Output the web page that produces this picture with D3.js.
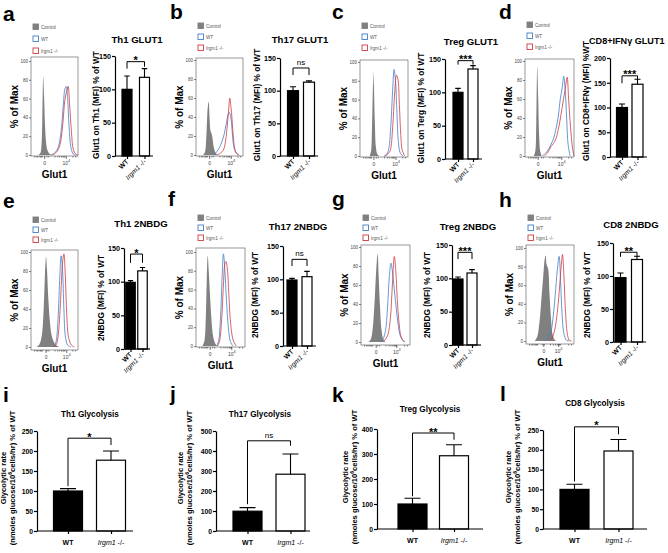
<!DOCTYPE html>
<html>
<head>
<meta charset="utf-8">
<script src="https://cdn.jsdelivr.net/npm/d3@7"></script>
<style>
  body { margin: 0; background: #fff; }
  svg { display: block; font-family: Arial, "Liberation Sans", sans-serif; }
</style>
</head>
<body>
<svg id="fig" width="668" height="553"></svg>
<script>
/* ---------- data ---------- */
const groups = ["WT", "Irgm1 -/-"];
const histTicks = [0, 20, 40, 60, 80, 100];
const histMinor = [0.06, 0.1, 0.13, 0.16, 0.19, 0.21, 0.23, 0.33, 0.37, 0.5, 0.56, 0.6, 0.64, 0.67, 0.69, 0.71, 0.88, 0.94];

// histogram traces: [channel, % of max]
const ctrlA = [[0.16,0],[0.2,2],[0.22,8],[0.24,35],[0.26,83],[0.28,60],[0.3,30],[0.32,14],[0.35,5],[0.4,1],[0.45,0]];
const wtA = [[0.42,0],[0.5,2],[0.55,5],[0.6,12],[0.65,30],[0.69,55],[0.72,70],[0.75,73],[0.78,60],[0.81,30],[0.85,8],[0.9,1],[0.95,0]];
const koA = [[0.45,0],[0.52,2],[0.58,6],[0.63,14],[0.68,35],[0.72,58],[0.76,68],[0.79,73],[0.82,55],[0.86,25],[0.9,6],[0.95,1],[1,0]];

const ctrlB = [[0.15,0],[0.19,3],[0.22,20],[0.25,50],[0.27,56],[0.29,38],[0.31,25],[0.33,23],[0.35,18],[0.38,8],[0.42,2],[0.46,0]];
const wtB = [[0.38,0],[0.45,4],[0.5,8],[0.55,14],[0.6,22],[0.64,32],[0.68,42],[0.71,45],[0.74,40],[0.77,25],[0.8,10],[0.84,3],[0.9,0]];
const koB = [[0.45,0],[0.52,2],[0.58,5],[0.62,12],[0.66,28],[0.69,45],[0.72,60],[0.74,52],[0.76,42],[0.79,22],[0.82,8],[0.86,2],[0.92,0]];

const ctrlC = [[0.2,0],[0.23,5],[0.25,30],[0.27,75],[0.28,89],[0.29,75],[0.31,35],[0.33,10],[0.36,2],[0.4,0]];
const wtC = [[0.5,0],[0.56,2],[0.6,8],[0.64,30],[0.68,70],[0.71,92],[0.74,80],[0.77,45],[0.8,15],[0.84,3],[0.9,0]];
const koC = [[0.52,0],[0.58,2],[0.63,6],[0.68,30],[0.72,65],[0.76,86],[0.79,82],[0.82,55],[0.85,22],[0.88,6],[0.93,0]];

const ctrlD = [[0.18,0],[0.21,5],[0.23,35],[0.25,94],[0.27,60],[0.29,20],[0.31,5],[0.34,0]];
const wtD = [[0.35,0],[0.42,3],[0.48,7],[0.53,12],[0.58,18],[0.63,28],[0.68,42],[0.72,60],[0.76,72],[0.79,84],[0.82,70],[0.85,40],[0.88,12],[0.92,0]];
const koD = [[0.4,0],[0.47,4],[0.53,10],[0.58,13],[0.63,18],[0.68,28],[0.73,42],[0.78,58],[0.82,70],[0.86,83],[0.89,60],[0.93,30],[0.97,8],[1,0]];

const ctrlE = [[0.12,0],[0.18,3],[0.23,12],[0.27,40],[0.3,80],[0.32,95],[0.34,82],[0.37,50],[0.4,28],[0.44,12],[0.5,4],[0.56,1],[0.6,0]];
const wtE = [[0.48,0],[0.53,5],[0.57,25],[0.61,70],[0.64,96],[0.67,82],[0.7,40],[0.73,12],[0.78,2],[0.85,0]];
const koE = [[0.5,0],[0.55,4],[0.59,18],[0.63,50],[0.67,88],[0.7,98],[0.73,75],[0.76,35],[0.8,10],[0.86,2],[0.92,0]];

const ctrlF = [[0.13,0],[0.17,5],[0.2,30],[0.22,70],[0.24,96],[0.26,80],[0.29,50],[0.32,25],[0.35,10],[0.39,3],[0.43,0]];
const wtF = [[0.42,0],[0.46,5],[0.5,30],[0.53,70],[0.56,98],[0.59,80],[0.62,50],[0.66,20],[0.7,5],[0.75,0]];
const koF = [[0.44,0],[0.48,5],[0.52,25],[0.56,65],[0.59,88],[0.61,90],[0.64,82],[0.67,55],[0.71,22],[0.76,6],[0.82,0]];

const ctrlG = [[0.15,0],[0.2,3],[0.24,15],[0.28,45],[0.31,75],[0.34,93],[0.36,70],[0.39,35],[0.42,12],[0.46,2],[0.5,0]];
const wtG = [[0.4,0],[0.45,3],[0.5,12],[0.54,35],[0.58,70],[0.61,83],[0.64,75],[0.68,55],[0.72,35],[0.76,18],[0.8,7],[0.85,2],[0.9,0]];
const koG = [[0.45,0],[0.5,3],[0.55,8],[0.6,25],[0.64,60],[0.68,90],[0.71,75],[0.74,45],[0.78,18],[0.82,5],[0.88,0]];

const ctrlH = [[0.18,0],[0.23,4],[0.28,20],[0.32,45],[0.36,70],[0.39,88],[0.41,92],[0.43,82],[0.46,78],[0.49,50],[0.52,25],[0.55,8],[0.6,1],[0.64,0]];
const wtH = [[0.4,0],[0.46,3],[0.52,10],[0.57,28],[0.61,50],[0.65,75],[0.69,91],[0.72,65],[0.75,30],[0.79,8],[0.84,1],[0.9,0]];
const koH = [[0.48,0],[0.54,3],[0.59,10],[0.63,22],[0.67,40],[0.71,65],[0.74,85],[0.76,93],[0.79,70],[0.82,35],[0.86,8],[0.9,1],[0.95,0]];

// bar values (mean, SEM), % of WT
const th1GlutMean = [100, 118], th1GlutErr = [20, 13];
const th17GlutMean = [100, 113], th17GlutErr = [6, 2];
const tregGlutMean = [100, 135], tregGlutErr = [6, 5];
const cd8GlutMean = [100, 147], cd8GlutErr = [7, 10];
const th1NbdgMean = [99, 116], th1NbdgErr = [2.5, 5];
const th17NbdgMean = [99, 104], th17NbdgErr = [2.5, 8];
const tregNbdgMean = [99, 108], tregNbdgErr = [3, 5];
const cd8NbdgMean = [97.5, 125], cd8NbdgErr = [7, 5];
const th1GlycMean = [100, 177], th1GlycErr = [6, 23];
const th17GlycMean = [99, 284], th17GlycErr = [18, 101];
const tregGlycMean = [100, 293], tregGlycErr = [23, 44];
const cd8GlycMean = [100, 197], cd8GlycErr = [13, 29];

/* ---------- style ---------- */
const FONT = 'Arial, "Liberation Sans", sans-serif';
const blue = "#3f7fcb", red = "#cf3a3f", grey = "#808080";

const svg = d3.select("#fig");
svg.append("rect").attr("width", 668).attr("height", 553).attr("fill", "#fff");

function letter(t, x, y) {
  svg.append("text").attr("x", x).attr("y", y).attr("font-size", 21)
    .attr("font-weight", "bold").text(t);
}

/* histogram (flow overlay) */
function drawHist(c) {
  const g = svg.append("g");
  const x = d3.scaleLinear().domain([0, 1]).range([c.x0, c.x1]);
  const y = d3.scaleLinear().domain([0, 100]).range([c.yz, c.y100]);

  const area = d3.area().x(d => x(d[0])).y0(y(0)).y1(d => y(d[1])).curve(d3.curveCatmullRom);
  const line = d3.line().x(d => x(d[0])).y(d => y(d[1])).curve(d3.curveCatmullRom);

  g.append("path").datum(c.ctrl).attr("d", area).attr("fill", grey);
  g.append("path").datum(c.wt).attr("d", line).attr("fill", "none").attr("stroke", blue).attr("stroke-width", 0.8);
  g.append("path").datum(c.ko).attr("d", line).attr("fill", "none").attr("stroke", red).attr("stroke-width", 0.8);

  // frame
  g.append("rect").attr("x", c.x0).attr("y", c.top).attr("width", c.x1 - c.x0)
    .attr("height", c.bot - c.top).attr("fill", "none").attr("stroke", "#555").attr("stroke-width", 0.6);

  // y axis
  const ya = g.append("g").attr("transform", `translate(${c.x0},0)`)
    .call(d3.axisLeft(y).tickValues(histTicks).tickSize(2));
  ya.select(".domain").remove();
  ya.selectAll("line").attr("stroke", "#333").attr("stroke-width", 0.6);
  ya.selectAll("text").attr("font-size", 4.5).attr("fill", "#444").attr("font-family", FONT).attr("x", -3);

  // x axis, minor then major
  const xm = g.append("g").attr("transform", `translate(0,${c.bot})`)
    .call(d3.axisBottom(x).tickValues(histMinor).tickSize(1.5).tickFormat(""));
  xm.select(".domain").remove();
  xm.selectAll("line").attr("stroke", "#333").attr("stroke-width", 0.6);
  const xM = g.append("g").attr("transform", `translate(0,${c.bot})`)
    .call(d3.axisBottom(x).tickValues([c.zero, c.dec]).tickSize(3).tickFormat((d, i) => i ? "10" : "0"));
  xM.select(".domain").remove();
  xM.selectAll("line").attr("stroke", "#333").attr("stroke-width", 0.7);
  xM.selectAll("text").attr("font-size", 5).attr("fill", "#444").attr("font-family", FONT).attr("y", 5);
  xM.selectAll("text").filter((d, i) => i === 1).append("tspan")
    .attr("dy", -2.5).attr("font-size", 4).text("4");

  g.append("text").attr("x", (c.x0 + c.x1) / 2).attr("y", c.bot + 22)
    .attr("text-anchor", "middle").attr("font-size", 10).attr("font-weight", "bold").text("Glut1");
  g.append("text").attr("transform", `translate(${c.x0 - 13},${(c.top + c.bot) / 2}) rotate(-90)`)
    .attr("text-anchor", "middle").attr("font-size", 10).attr("font-weight", "bold").text("% of Max");

  // legend
  const items = [
    { t: "Control", fill: grey, stroke: grey },
    { t: "WT", fill: "#fff", stroke: blue },
    { t: "Irgm1 -/-", fill: "#fff", stroke: red }
  ];
  items.forEach((it, i) => {
    const yy = c.legY + i * c.legStep;
    g.append("rect").attr("x", c.x0 + 2).attr("y", yy).attr("width", 5.5).attr("height", 5.5)
      .attr("fill", it.fill).attr("stroke", it.stroke).attr("stroke-width", 0.9);
    g.append("text").attr("x", c.x0 + 10).attr("y", yy + 4.6).attr("font-size", 4.6)
      .attr("fill", "#555").text(it.t);
  });
}

/* bar chart (Prism style) */
function drawBars(c) {
  const g = svg.append("g");
  const x = d3.scalePoint().domain(groups).range([c.c1, c.c2]);
  const y = d3.scaleLinear().domain([0, c.max]).range([c.y0, c.yTop]);
  const rows = groups.map((k, i) => ({ k, m: c.mean[i], e: c.err[i], i }));

  g.selectAll("rect.bar").data(rows).join("rect")
    .attr("x", d => x(d.k) - c.bw / 2).attr("y", d => y(d.m))
    .attr("width", c.bw).attr("height", d => y(0) - y(d.m))
    .attr("fill", d => d.i ? "#fff" : "#000").attr("stroke", "#000").attr("stroke-width", 1.2);

  const cap = c.bw * 0.55;
  g.selectAll("path.err").data(rows).join("path")
    .attr("d", d => `M${x(d.k)},${y(d.m)}V${y(d.m + d.e)}M${x(d.k) - cap / 2},${y(d.m + d.e)}H${x(d.k) + cap / 2}`)
    .attr("stroke", "#000").attr("stroke-width", 1.1).attr("fill", "none");

  // axes
  const ya = g.append("g").attr("transform", `translate(${c.axisX},0)`)
    .call(d3.axisLeft(y).tickValues(d3.range(0, c.max + 1, c.step)).tickSize(3).tickSizeOuter(0));
  ya.select(".domain").attr("stroke-width", 1.2);
  ya.selectAll("line").attr("stroke-width", 1.2);
  ya.selectAll("text").attr("font-size", c.tickFs).attr("font-weight", "bold").attr("font-family", FONT).attr("x", -4);

  const xa = g.append("g").attr("transform", `translate(0,${c.y0})`)
    .call(d3.axisBottom(x).tickSize(3).tickFormat(""));
  xa.select(".domain").remove();
  xa.selectAll("line").attr("stroke-width", 1.2);
  g.append("line").attr("x1", c.axisX).attr("x2", c.xEnd).attr("y1", c.y0).attr("y2", c.y0)
    .attr("stroke", "#000").attr("stroke-width", 1.2);

  // category labels
  groups.forEach((k, i) => {
    let t;
    if (c.rotate) {
      t = g.append("text").attr("transform", `translate(${x(k) + 2},${c.y0 + 6}) rotate(-45)`)
        .attr("text-anchor", "end").attr("font-size", 6.8);
    } else {
      t = g.append("text").attr("x", x(k)).attr("y", c.y0 + 14)
        .attr("text-anchor", "middle").attr("font-size", 7);
    }
    if (i === 0) t.attr("font-weight", "bold").text(k);
    else {
      t.append("tspan").attr("font-style", "italic").text("Irgm1");
      t.append("tspan").text(" -/-");
    }
  });

  // title
  g.append("text").attr("x", c.titleX).attr("y", c.titleY)
    .attr("text-anchor", c.titleAnchor || "middle").attr("font-size", c.titleFs)
    .attr("font-weight", "bold").text(c.title);

  // y label
  if (c.ylab2) {
    g.append("text").attr("transform", `translate(${c.ylabX},${c.ylabY}) rotate(-90)`)
      .attr("text-anchor", "middle").attr("font-size", 7.6).attr("font-weight", "bold").text(c.ylab);
    const t2 = g.append("text").attr("transform", `translate(${c.ylabX + 8.5},${c.ylabY}) rotate(-90)`)
      .attr("text-anchor", "middle").attr("font-size", 7.6).attr("font-weight", "bold");
    t2.append("tspan").text("(nmoles glucose/10");
    t2.append("tspan").attr("dy", -3).attr("font-size", 5.2).text("6");
    t2.append("tspan").attr("dy", 3).text("cells/hr) % of WT");
  } else {
    g.append("text").attr("transform", `translate(${c.ylabX},${c.ylabY}) rotate(-90)`)
      .attr("text-anchor", "middle").attr("font-size", c.ylabFs).attr("font-weight", "bold").text(c.ylab);
  }

  // significance bracket
  const b = c.br;
  g.append("path")
    .attr("d", `M${x(groups[0])},${y(b.l)}V${y(b.y)}H${x(groups[1])}V${y(b.r)}`)
    .attr("fill", "none").attr("stroke", "#000").attr("stroke-width", 1);
  const ns = c.sig === "ns";
  g.append("text").attr("x", (x(groups[0]) + x(groups[1])) / 2)
    .attr("y", y(b.y) + (ns ? -3 : 2.5))
    .attr("text-anchor", "middle").attr("font-size", ns ? 8 : 11)
    .attr("font-weight", ns ? "normal" : "bold").text(c.sig);
}

/* ---------- panels ---------- */
letter("a", 3, 21); letter("b", 170, 19); letter("c", 332, 19); letter("d", 499, 19);
letter("e", 3, 208); letter("f", 168, 206); letter("g", 332, 206); letter("h", 499, 207);
letter("i", 3, 402); letter("j", 170, 401); letter("k", 332, 402); letter("l", 500, 401);

drawHist({ x0: 31, x1: 78, top: 57, bot: 156, yz: 155, y100: 61, zero: 0.28, dec: 0.74, legY: 24, legStep: 12, ctrl: ctrlA, wt: wtA, ko: koA });
drawHist({ x0: 196, x1: 243, top: 58, bot: 156, yz: 155, y100: 60, zero: 0.28, dec: 0.74, legY: 23, legStep: 11, ctrl: ctrlB, wt: wtB, ko: koB });
drawHist({ x0: 360, x1: 408, top: 60, bot: 157, yz: 156, y100: 62, zero: 0.28, dec: 0.74, legY: 23, legStep: 11, ctrl: ctrlC, wt: wtC, ko: koC });
drawHist({ x0: 525, x1: 574, top: 59, bot: 157, yz: 156, y100: 61, zero: 0.26, dec: 0.74, legY: 22, legStep: 11, ctrl: ctrlD, wt: wtD, ko: koD });
drawHist({ x0: 31, x1: 78, top: 250, bot: 350, yz: 347, y100: 252, zero: 0.31, dec: 0.75, legY: 217, legStep: 10, ctrl: ctrlE, wt: wtE, ko: koE });
drawHist({ x0: 196, x1: 245, top: 248, bot: 347, yz: 346, y100: 252, zero: 0.28, dec: 0.72, legY: 215, legStep: 10, ctrl: ctrlF, wt: wtF, ko: koF });
drawHist({ x0: 361, x1: 410, top: 245, bot: 345, yz: 342, y100: 247, zero: 0.3, dec: 0.72, legY: 215, legStep: 10, ctrl: ctrlG, wt: wtG, ko: koG });
drawHist({ x0: 526, x1: 574, top: 245, bot: 344, yz: 341, y100: 248, zero: 0.36, dec: 0.67, legY: 215, legStep: 10, ctrl: ctrlH, wt: wtH, ko: koH });

const topBar = { rotate: true, tickFs: 7.2, titleFs: 9.6, ylabFs: 8.3, max: 150, step: 50 };
drawBars({ ...topBar, c1: 127, c2: 144.5, bw: 10, axisX: 115, xEnd: 153, y0: 156, yTop: 56,
  mean: th1GlutMean, err: th1GlutErr, title: "Th1 GLUT1", titleX: 137, titleY: 43,
  ylab: "Glut1 on Th1 (MFI) % of WT", ylabX: 99, ylabY: 105, sig: "*", br: { y: 141.5, l: 131, r: 134 } });
drawBars({ ...topBar, c1: 293, c2: 309, bw: 11, axisX: 280, xEnd: 318, y0: 156, yTop: 58,
  mean: th17GlutMean, err: th17GlutErr, title: "Th17 GLUT1", titleX: 300, titleY: 43,
  ylab: "Glut1 on Th17 (MFI) % of WT", ylabX: 260, ylabY: 105, sig: "ns", br: { y: 134.7, l: 124, r: 124 } });
drawBars({ ...topBar, c1: 458, c2: 473, bw: 10, axisX: 445, xEnd: 482, y0: 159, yTop: 59,
  mean: tregGlutMean, err: tregGlutErr, title: "Treg GLUT1", titleX: 471, titleY: 45,
  ylab: "Glut1 on Terg (MFI) % of WT", ylabX: 424, ylabY: 108, sig: "***", br: { y: 147.5, l: 141.5, r: 141.5 } });
drawBars({ ...topBar, max: 200, c1: 622, c2: 637.5, bw: 11, axisX: 610, xEnd: 647, y0: 157, yTop: 58,
  mean: cd8GlutMean, err: cd8GlutErr, title: "CD8+IFNγ GLUT1", titleX: 589, titleY: 44, titleAnchor: "start", titleFs: 9.1,
  ylab: "Glut1 on CD8+IFNγ (MFI) %WT", ylabX: 589, ylabY: 101, ylabFs: 8.3, sig: "***", br: { y: 164, l: 149, r: 149 } });

drawBars({ ...topBar, c1: 130.5, c2: 142.5, bw: 9.5, axisX: 124, xEnd: 150, y0: 349, yTop: 248,
  mean: th1NbdgMean, err: th1NbdgErr, title: "Th1 2NBDG", titleX: 141, titleY: 227,
  ylab: "2NBDG (MFI) % of WT", ylabX: 104, ylabY: 298, sig: "*", br: { y: 141, l: 128, r: 128 } });
drawBars({ ...topBar, c1: 292, c2: 307, bw: 10, axisX: 283, xEnd: 316, y0: 346, yTop: 246,
  mean: th17NbdgMean, err: th17NbdgErr, title: "Th17 2NBDG", titleX: 298, titleY: 230,
  ylab: "2NBDG (MFI) % of WT", ylabX: 258, ylabY: 295, sig: "ns", br: { y: 130, l: 120, r: 120 } });
drawBars({ ...topBar, c1: 458, c2: 472, bw: 10, axisX: 452, xEnd: 481, y0: 345, yTop: 245,
  mean: tregNbdgMean, err: tregNbdgErr, title: "Treg 2NBDG", titleX: 468, titleY: 230,
  ylab: "2NBDG (MFI) % of WT", ylabX: 430, ylabY: 295, sig: "***", br: { y: 139, l: 129, r: 129 } });
drawBars({ ...topBar, c1: 620.5, c2: 637, bw: 11, axisX: 613, xEnd: 646, y0: 342, yTop: 243,
  mean: cd8NbdgMean, err: cd8NbdgErr, title: "CD8 2NBDG", titleX: 631, titleY: 228,
  ylab: "2NBDG (MFI) % of WT", ylabX: 590, ylabY: 295, sig: "**", br: { y: 136, l: 129, r: 129 } });

const botBar = { rotate: false, tickFs: 6.8, titleFs: 8.2, ylab: "Glycolytic rate", ylab2: true, bw: 29 };
drawBars({ ...botBar, max: 250, step: 50, c1: 68, c2: 111, axisX: 37, xEnd: 133, y0: 531, yTop: 431,
  mean: th1GlycMean, err: th1GlycErr, title: "Th1 Glycolysis", titleX: 90, titleY: 417,
  ylabX: 6, ylabY: 478, sig: "*", br: { y: 232, l: 112, r: 215 } });
drawBars({ ...botBar, max: 500, step: 100, c1: 247.5, c2: 290.5, axisX: 216, xEnd: 310, y0: 531, yTop: 431,
  mean: th17GlycMean, err: th17GlycErr, title: "Th17 Glycolysis", titleX: 260, titleY: 417,
  ylabX: 183, ylabY: 478, sig: "ns", br: { y: 451, l: 134, r: 426 } });
drawBars({ ...botBar, max: 400, step: 100, c1: 412.5, c2: 454, axisX: 377, xEnd: 483, y0: 529, yTop: 429,
  mean: tregGlycMean, err: tregGlycErr, title: "Treg Glycolysis", titleX: 430, titleY: 412,
  ylabX: 348, ylabY: 477, sig: "**", br: { y: 384, l: 131, r: 357 } });
drawBars({ ...botBar, max: 250, step: 50, c1: 574.5, c2: 618.5, axisX: 543, xEnd: 647, y0: 529, yTop: 430,
  mean: cd8GlycMean, err: cd8GlycErr, title: "CD8 Glycolysis", titleX: 595, titleY: 406,
  ylabX: 511, ylabY: 477, sig: "*", br: { y: 258, l: 120, r: 239 } });
</script>
</body>
</html>
